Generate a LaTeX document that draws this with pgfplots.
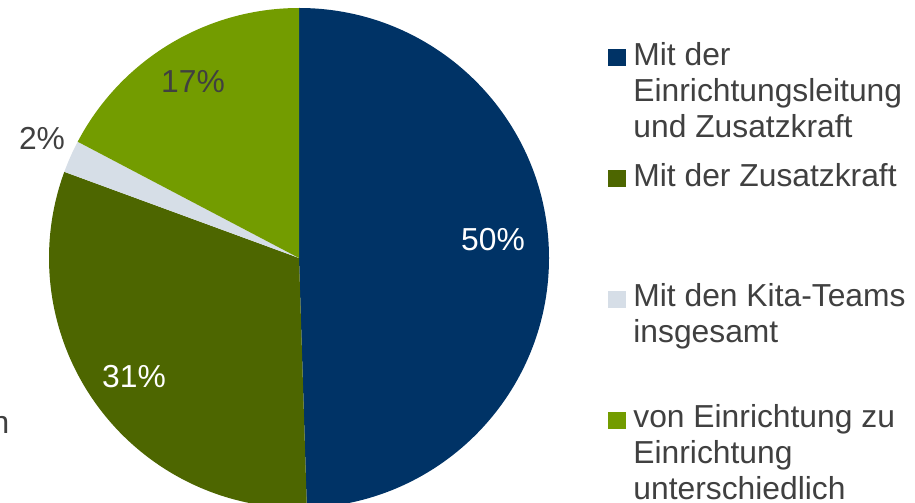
\documentclass[border=0pt]{standalone}
\usepackage{pgfplots}
\pgfplotsset{compat=1.18}
\usepackage{fontspec}
\setmainfont{Liberation Sans}
\definecolor{cNavy}{HTML}{003366}
\definecolor{cOlive}{HTML}{4D6600}
\definecolor{cGray}{HTML}{D6DEE7}
\definecolor{cGreen}{HTML}{739C00}
\definecolor{cText}{HTML}{404040}
\newcommand{\LE}[1]{\parbox[t]{290bp}{\fontsize{31.8bp}{36bp}\selectfont #1}}
\begin{document}
\begin{tikzpicture}[x=1bp,y=1bp]
\path[use as bounding box] (0bp,0bp) rectangle (915bp,503bp);
% slice values (percent)
\def\vA{49.5}\def\vB{31.1}\def\vC{2.1}\def\vD{17.3}
\pgfmathsetmacro\aA{90}
\pgfmathsetmacro\aB{\aA-3.6*\vA}
\pgfmathsetmacro\aC{\aB-3.6*\vB}
\pgfmathsetmacro\aD{\aC-3.6*\vC}
\pgfmathsetmacro\aE{\aD-3.6*\vD}
\begin{axis}[
  at={(49bp,-5bp)}, anchor=south west, scale only axis, width=500bp, height=500bp,
  xmin=-1,xmax=1,ymin=-1,ymax=1, hide axis, clip=false,
  legend style={at={(1.118,0.932)}, anchor=north west, draw=none, fill=none,
    inner sep=0pt, outer sep=0pt, row sep=0pt, column sep=8bp,
    nodes={inner sep=0pt, outer sep=0pt, text=cText},
    font=\fontsize{31.8bp}{36bp}\selectfont},
  legend cell align=left,
  legend image code/.code={\fill[#1] (0bp,-11bp) rectangle (17bp,5bp);
     \path[draw=none,fill=none] (0bp,11bp) -- (0bp,-108.7bp);},
]
\fill[cNavy] (0,0) -- ({cos(\aA)},{sin(\aA)}) arc[start angle=\aA, end angle=\aB, radius=1] -- cycle;
\fill[cOlive] (0,0) -- ({cos(\aB)},{sin(\aB)}) arc[start angle=\aB, end angle=\aC, radius=1] -- cycle;
\fill[cGray] (0,0) -- ({cos(\aC)},{sin(\aC)}) arc[start angle=\aC, end angle=\aD, radius=1] -- cycle;
\fill[cGreen] (0,0) -- ({cos(\aD)},{sin(\aD)}) arc[start angle=\aD, end angle=\aE, radius=1] -- cycle;
\addlegendimage{cNavy}
\addlegendentry{\LE{Mit der\\Einrichtungsleitung\\und Zusatzkraft}}
\addlegendimage{cOlive}
\addlegendentry{\LE{Mit der Zusatzkraft}}
\addlegendimage{cGray}
\addlegendentry{\LE{Mit den Kita-Teams\\insgesamt}}
\addlegendimage{cGreen}
\addlegendentry{\LE{von Einrichtung zu\\Einrichtung\\unterschiedlich}}
\node[text=white, font=\fontsize{31.8bp}{36bp}\selectfont] at (axis cs:0.776,0.072) {50\%};
\node[text=white, font=\fontsize{31.8bp}{36bp}\selectfont] at (axis cs:-0.66,-0.476) {31\%};
\node[text=cText, font=\fontsize{31.8bp}{36bp}\selectfont] at (axis cs:-0.424,0.704) {17\%};
\node[text=cText, font=\fontsize{31.8bp}{36bp}\selectfont] at (axis cs:-1.028,0.48) {2\%};
\end{axis}
\node[anchor=base east, inner sep=0pt, text=cText, font=\fontsize{31.8bp}{36bp}\selectfont] at (9.5bp,69bp) {n};
\end{tikzpicture}
\end{document}
